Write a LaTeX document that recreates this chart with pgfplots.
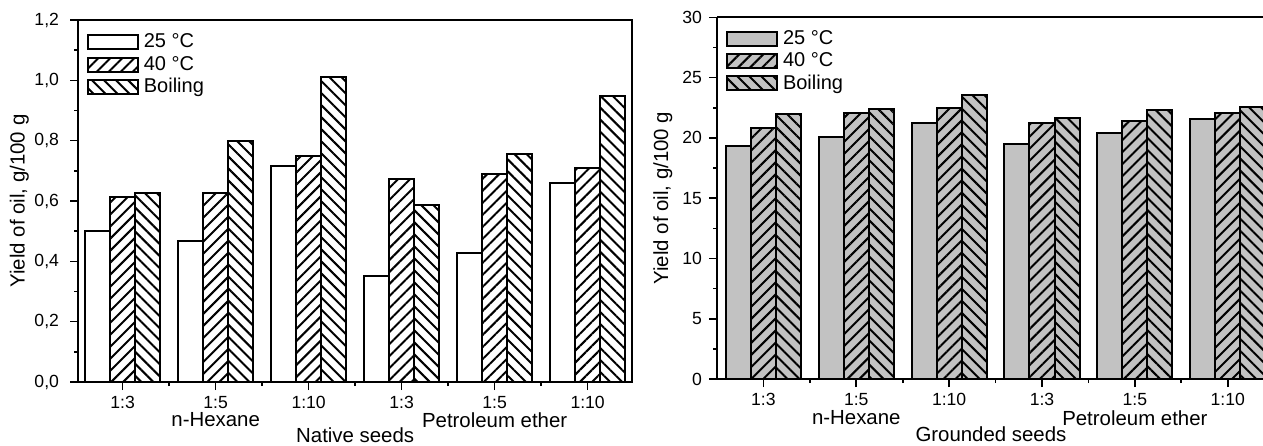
\documentclass[border=0pt]{standalone}
\usepackage{fontspec}
\setmainfont{Liberation Sans}
\usepackage{pgfplots}
\pgfplotsset{compat=1.18}
\usepackage{pgfplotstable}
\usetikzlibrary{patterns.meta}
\definecolor{barg}{gray}{0.76}

\pgfplotstableread{
x  ca    cb    cc
0  0.500 0.614 0.627
1  0.468 0.627 0.800
2  0.717 0.749 1.010
3  0.352 0.673 0.587
4  0.427 0.690 0.756
5  0.660 0.708 0.949
}\native
\pgfplotstableread{
x  ca    cb    cc
0  19.35 20.80 21.95
1  20.04 22.03 22.39
2  21.28 22.50 23.55
3  19.46 21.20 21.67
4  20.45 21.37 22.30
5  21.53 22.03 22.60
}\grounded

\pgfplotsset{
  myleg/.style={legend image code/.code={\draw[##1] (0pt,-3.5pt) rectangle (25pt,3.5pt);}},
  common/.style={
    scale only axis, ybar, bar width=0.27,
    clip mode=individual,
    xtick={0,...,5}, xticklabels={1:3,1:5,1:10,1:3,1:5,1:10},
    minor xtick={0.5,1.5,2.5,3.5,4.5},
    xtick pos=left, ytick pos=left, tick align=outside,
    major tick length=4pt, minor tick length=2pt,
    every tick/.style={black, line width=0.8pt},
    axis line style={line width=1pt, -},
    ymin=0, minor y tick num=1,
    tick label style={font=\fontsize{8.8}{10}\selectfont},
    xticklabel style={yshift=0.5pt},
    /pgf/number format/assume math mode=true,
    ylabel style={font=\fontsize{10.2}{12}\selectfont, anchor=center},
    legend style={draw=none, fill=none, anchor=north west,
      font=\fontsize{10}{10}\selectfont, row sep=1pt, inner sep=0pt,
      column sep=1.5pt, nodes={inner sep=0.8pt}},
    legend cell align=left,
  },
}

\begin{document}
\begin{tikzpicture}
\begin{axis}[common,
  at={(39pt,31.5pt)}, anchor=south west, width=277pt, height=181pt,
  xmin=-0.48, xmax=5.477, ymax=1.2,
  ytick={0,0.2,0.4,0.6,0.8,1.0,1.2},
  yticklabel style={xshift=-2pt, /pgf/number format/.cd, fixed, fixed zerofill, precision=1, use comma},
  ylabel={Yield of oil, g/100 g},
  ylabel style={at={(axis description cs:-0.106,0.5)}},
  legend style={at={(axis description cs:0.016,0.967)}},
]
\addplot[draw=black, line width=1pt, fill=white, bar shift=-0.27, myleg]
  table[x=x,y=ca] {\native};
\addlegendentry{25 °C}
\addplot[draw=black, line width=1pt, fill=white, bar shift=0,
  pattern={Lines[angle=45,distance=4.25pt,line width=1pt]}, myleg]
  table[x=x,y=cb] {\native};
\addlegendentry{40 °C}
\addplot[draw=black, line width=1pt, fill=white, bar shift=0.27,
  pattern={Lines[angle=-45,distance=4.25pt,line width=1pt]}, myleg]
  table[x=x,y=cc] {\native};
\addlegendentry{Boiling}
\node[font=\fontsize{10.2}{12}\selectfont] at (axis cs:1,0) [yshift=-19pt] {n-Hexane};
\node[font=\fontsize{10.2}{12}\selectfont] at (axis cs:4,0) [yshift=-19pt] {Petroleum ether};
\node[font=\fontsize{10.2}{12}\selectfont] at (axis cs:2.5,0) [yshift=-26.5pt] {Native seeds};
\end{axis}

\begin{axis}[common,
  at={(358.5pt,33pt)}, anchor=south west, width=273pt, height=180.8pt,
  axis x line*=bottom, axis y line*=left,
  xmin=-0.5, xmax=5.38, ymax=30,
  ytick={0,5,10,15,20,25,30},
  ylabel={Yield of oil, g/100 g},
  ylabel style={at={(axis description cs:-0.099,0.5)}},
  legend style={at={(axis description cs:0.0165,0.97)}},
]
\addplot[draw=black, line width=1pt, fill=barg, bar shift=-0.27, myleg]
  table[x=x,y=ca] {\grounded};
\addlegendentry{25 °C}
\addplot[draw=black, line width=1pt, preaction={fill=barg}, bar shift=0,
  pattern={Lines[angle=45,distance=4.25pt,line width=1pt]}, myleg]
  table[x=x,y=cb] {\grounded};
\addlegendentry{40 °C}
\addplot[draw=black, line width=1pt, preaction={fill=barg}, bar shift=0.27,
  pattern={Lines[angle=-45,distance=4.25pt,line width=1pt]}, myleg]
  table[x=x,y=cc] {\grounded};
\addlegendentry{Boiling}
\draw[line width=1pt] (rel axis cs:0,1) -- (rel axis cs:1,1);
\node[font=\fontsize{10.2}{12}\selectfont] at (axis cs:1,0) [yshift=-19.5pt] {n-Hexane};
\node[font=\fontsize{10.2}{12}\selectfont] at (axis cs:4,0) [yshift=-19.5pt] {Petroleum ether};
\node[font=\fontsize{10.2}{12}\selectfont] at (axis cs:2.45,0) [yshift=-27.5pt] {Grounded seeds};
\end{axis}
\pgfresetboundingbox
\useasboundingbox (0,0) rectangle (631.5pt,222.5pt);
\end{tikzpicture}
\end{document}
